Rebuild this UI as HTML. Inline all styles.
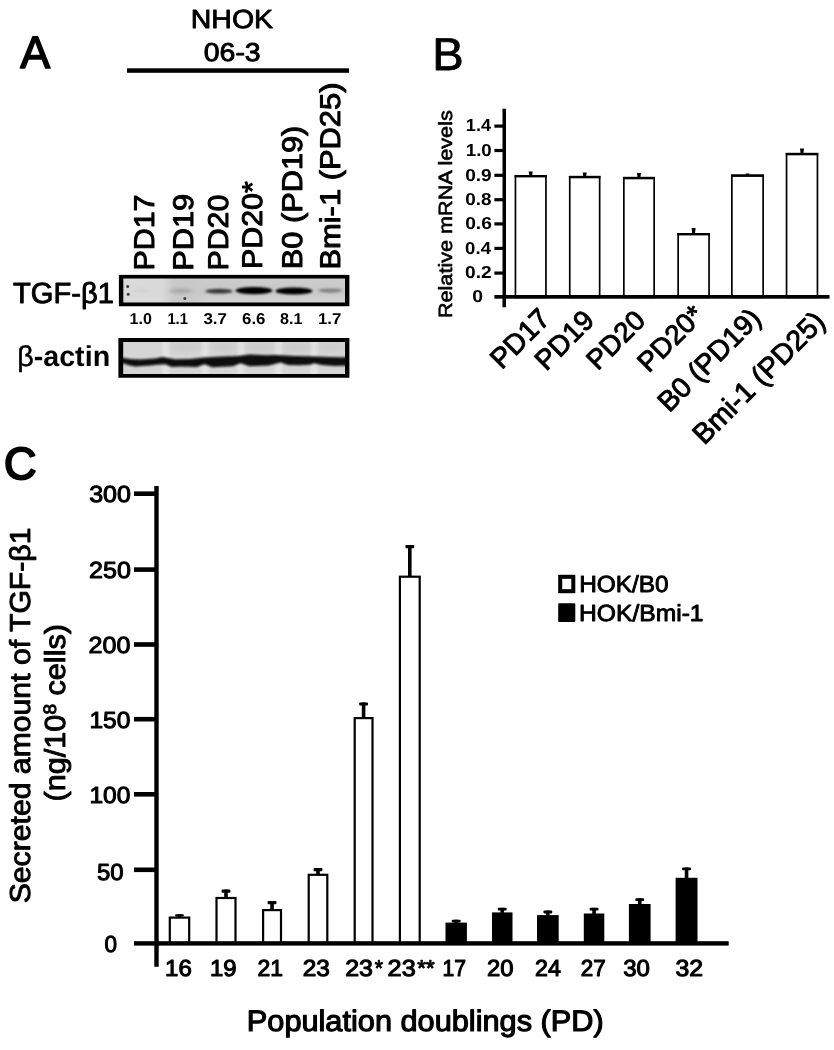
<!DOCTYPE html>
<html lang="en"><head><meta charset="utf-8"><title>Figure</title>
<style>html,body{margin:0;padding:0;background:#fff}svg{display:block}text{font-family:"Liberation Sans", sans-serif;fill:#000;text-rendering:geometricPrecision}</style>
</head><body>
<svg width="834" height="1050" viewBox="0 0 834 1050">
<defs>
<filter id="b00" x="-50%" y="-50%" width="200%" height="200%"><feGaussianBlur stdDeviation="0.5"/></filter>
<filter id="b0" x="-20%" y="-100%" width="140%" height="300%"><feGaussianBlur stdDeviation="1.3 0.9"/></filter>
<filter id="b1" x="-20%" y="-100%" width="140%" height="300%"><feGaussianBlur stdDeviation="1.8 1.1"/></filter>
<filter id="b2" x="-20%" y="-100%" width="140%" height="300%"><feGaussianBlur stdDeviation="2.2 1.4"/></filter>
<filter id="b3" x="-20%" y="-100%" width="140%" height="300%"><feGaussianBlur stdDeviation="4 3"/></filter>
<clipPath id="c1"><rect x="120" y="275" width="228" height="30"/></clipPath>
<clipPath id="c2"><rect x="120" y="339" width="228" height="37"/></clipPath>
</defs>
<rect width="834" height="1050" fill="#fff"/>
<g id="panelA">
<text x="20.28" y="68.16" font-size="45.51" textLength="29.87" lengthAdjust="spacingAndGlyphs" stroke="#000" stroke-width="1.6" stroke-linejoin="round">A</text>
<text x="190.81" y="27.79" font-size="26.17" textLength="82.28" lengthAdjust="spacingAndGlyphs" stroke="#000" stroke-width="0.8" stroke-linejoin="round">NHOK</text>
<text x="203.74" y="61.01" font-size="25.77" textLength="56.98" lengthAdjust="spacingAndGlyphs" stroke="#000" stroke-width="0.9" stroke-linejoin="round">06-3</text>
<rect x="127" y="68.3" width="222" height="4.5" fill="#000"/>
<text x="154.01" y="270.61" font-size="28.5" transform="rotate(-90 154.01 270.61)" textLength="76.11" lengthAdjust="spacingAndGlyphs" stroke="#000" stroke-width="1.0" stroke-linejoin="round">PD17</text>
<text x="192.56" y="270.8" font-size="28.5" transform="rotate(-90 192.56 270.8)" textLength="76.99" lengthAdjust="spacingAndGlyphs" stroke="#000" stroke-width="1.0" stroke-linejoin="round">PD19</text>
<text x="228.11" y="270.5" font-size="28.5" transform="rotate(-90 228.11 270.5)" textLength="75.84" lengthAdjust="spacingAndGlyphs" stroke="#000" stroke-width="1.0" stroke-linejoin="round">PD20</text>
<text x="262.09" y="268.9" font-size="28.5" transform="rotate(-90 262.09 268.9)" textLength="87.61" lengthAdjust="spacingAndGlyphs" stroke="#000" stroke-width="1.0" stroke-linejoin="round">PD20*</text>
<text x="302.02" y="269.13" font-size="28.5" transform="rotate(-90 302.02 269.13)" textLength="143.43" lengthAdjust="spacingAndGlyphs" stroke="#000" stroke-width="1.0" stroke-linejoin="round">B0 (PD19)</text>
<text x="340.08" y="269.56" font-size="28.5" transform="rotate(-90 340.08 269.56)" textLength="187" lengthAdjust="spacingAndGlyphs" stroke="#000" stroke-width="1.0" stroke-linejoin="round">Bmi-1 (PD25)</text>
<rect x="119" y="274.4" width="230" height="31.6" fill="#c9c9c9"/>
<g clip-path="url(#c1)">
<rect x="118" y="270" width="50" height="40" fill="#dadada" filter="url(#b3)"/>
<rect x="200" y="297.5" width="150" height="8" fill="#d3d3d3" filter="url(#b3)"/>
<rect x="200" y="276" width="150" height="7" fill="#cdcdcd" filter="url(#b3)"/>
<ellipse cx="142" cy="290.5" rx="9" ry="2.2" fill="#d2d2d2" filter="url(#b1)"/>
<ellipse cx="181" cy="291" rx="11.5" ry="2.4" fill="#a8a8a8" filter="url(#b2)"/>
<ellipse cx="219" cy="291.2" rx="13.5" ry="2.4" fill="#3a3a3a" filter="url(#b1)"/>
<ellipse cx="254" cy="290.6" rx="18.5" ry="3.7" fill="#000" filter="url(#b0)"/>
<ellipse cx="294" cy="291" rx="18.5" ry="3.6" fill="#000" filter="url(#b0)"/>
<ellipse cx="330.3" cy="290.6" rx="12" ry="2.1" fill="#828282" filter="url(#b1)"/>
<g fill="#3c3c3c" filter="url(#b00)"><circle cx="127.7" cy="286.4" r="1.5"/><circle cx="128.2" cy="294.3" r="1.5"/><circle cx="184.8" cy="298.5" r="1.5"/></g>
</g>
<path fill-rule="evenodd" fill="#000" d="M118.9 274.9H349.4V306.2H118.9Z M123.3 278.4V302.5H345V278.4Z"/>
<text x="129.5" y="323.54" font-size="15.7" font-weight="bold" textLength="22.3" lengthAdjust="spacingAndGlyphs">1.0</text>
<text x="167.39" y="323.54" font-size="15.7" font-weight="bold" textLength="20.57" lengthAdjust="spacingAndGlyphs">1.1</text>
<text x="203.45" y="323.54" font-size="15.7" font-weight="bold" textLength="23.55" lengthAdjust="spacingAndGlyphs">3.7</text>
<text x="242.06" y="323.54" font-size="15.7" font-weight="bold" textLength="23.47" lengthAdjust="spacingAndGlyphs">6.6</text>
<text x="280.14" y="323.54" font-size="15.7" font-weight="bold" textLength="22.43" lengthAdjust="spacingAndGlyphs">8.1</text>
<text x="317.98" y="323.54" font-size="15.7" font-weight="bold" textLength="23.36" lengthAdjust="spacingAndGlyphs">1.7</text>
<rect x="119" y="338.5" width="230" height="38.5" fill="#d5d5d5"/>
<g clip-path="url(#c2)">
<rect x="163" y="338" width="6" height="40" fill="#e6e6e6" filter="url(#b2)"/>
<rect x="202" y="338" width="6" height="40" fill="#e6e6e6" filter="url(#b2)"/>
<rect x="238" y="338" width="6" height="40" fill="#e6e6e6" filter="url(#b2)"/>
<rect x="275.6" y="338" width="6" height="40" fill="#e6e6e6" filter="url(#b2)"/>
<rect x="311" y="338" width="6" height="40" fill="#e6e6e6" filter="url(#b2)"/>
<rect x="172" y="344" width="28" height="6" fill="#c6c6c6" filter="url(#b3)"/>
<rect x="212" y="344" width="24" height="6" fill="#c6c6c6" filter="url(#b3)"/>
<rect x="246" y="344" width="28" height="6" fill="#c6c6c6" filter="url(#b3)"/>
<rect x="284" y="344" width="26" height="6" fill="#c6c6c6" filter="url(#b3)"/>
<rect x="320" y="344" width="22" height="6" fill="#c6c6c6" filter="url(#b3)"/>
<path d="M118 357.7 L124 358.0 L130 358.9 L140 359.4 L155 358.4 L163 357.0 L168 358.0 L175 359.2 L190 358.9 L203.8 357.4 L218 356.7 L238.3 356.0 L249.8 354.59999999999997 L267 355.29999999999995 L275.7 355.0 L294.4 356.0 L305 356.2 L314 356.4 L330 356.9 L350 357.4 L350 365.4 L335 365.9 L322 364.9 L314 363.29999999999995 L310 364.7 L300 365.2 L288 364.9 L280.8 362.5 L268.5 365.4 L249.8 366.2 L240.5 363.29999999999995 L232.6 366.2 L212.4 367.2 L204.5 364.29999999999995 L196.6 366.9 L180 366.5 L172 366.9 L165 364.29999999999995 L160 364.5 L150 365.5 L135 366.4 L128 364.9 L124 363.4 L118 362.9 Z" fill="#0a0a0a" filter="url(#b0)"/>
</g>
<path fill-rule="evenodd" fill="#000" d="M118.4 338H349.4V377.8H118.4Z M123.2 342.1V374H345V342.1Z"/>
<text x="13.1" y="303.27" font-size="29.07" textLength="100.83" lengthAdjust="spacingAndGlyphs" stroke="#000" stroke-width="0.9" stroke-linejoin="round">TGF-β1</text>
<text x="17.17" y="366.08" font-size="28.79" font-weight="bold" textLength="93" lengthAdjust="spacingAndGlyphs"><tspan font-weight="normal" stroke="#000" stroke-width="0.5">β</tspan>-actin</text>
</g>
<g id="panelB">
<text x="432.24" y="70.44" font-size="45.98" textLength="31.49" lengthAdjust="spacingAndGlyphs" stroke="#000" stroke-width="0.8" stroke-linejoin="round">B</text>
<rect x="502.5" y="108.7" width="3.5" height="198.6" fill="#000"/>
<rect x="494.4" y="124.5" width="9" height="3.2" fill="#000"/>
<rect x="494.4" y="148.9" width="9" height="3.2" fill="#000"/>
<rect x="494.4" y="173.7" width="9" height="3.2" fill="#000"/>
<rect x="494.4" y="198.1" width="9" height="3.2" fill="#000"/>
<rect x="494.4" y="222.3" width="9" height="3.2" fill="#000"/>
<rect x="494.4" y="246.8" width="9" height="3.2" fill="#000"/>
<rect x="494.4" y="271.5" width="9" height="3.2" fill="#000"/>
<text x="465.87" y="131.39" font-size="17.3" font-weight="bold" textLength="25.18" lengthAdjust="spacingAndGlyphs">1.4</text>
<text x="465.73" y="155.79" font-size="17.3" font-weight="bold" textLength="26.05" lengthAdjust="spacingAndGlyphs">1.0</text>
<text x="465.18" y="180.59" font-size="17.3" font-weight="bold" textLength="26.57" lengthAdjust="spacingAndGlyphs">0.9</text>
<text x="465.28" y="204.99" font-size="17.3" font-weight="bold" textLength="26.34" lengthAdjust="spacingAndGlyphs">0.8</text>
<text x="465.19" y="229.19" font-size="17.3" font-weight="bold" textLength="26.7" lengthAdjust="spacingAndGlyphs">0.6</text>
<text x="465.14" y="253.69" font-size="17.3" font-weight="bold" textLength="25.86" lengthAdjust="spacingAndGlyphs">0.4</text>
<text x="465.11" y="278.39" font-size="17.3" font-weight="bold" textLength="26.58" lengthAdjust="spacingAndGlyphs">0.2</text>
<text x="472.2" y="301.83" font-size="17.3" font-weight="bold" textLength="10.82" lengthAdjust="spacingAndGlyphs">0</text>
<text x="452.04" y="318.05" font-size="19.21" transform="rotate(-90 452.04 318.05)" textLength="207.82" lengthAdjust="spacingAndGlyphs" stroke="#000" stroke-width="0.6" stroke-linejoin="round">Relative mRNA levels</text>
<rect x="515.45" y="175.85" width="30.50" height="121.50" fill="#fff" stroke="#000" stroke-width="1.7"/>
<rect x="514.6" y="175.0" width="32.2" height="2.4" fill="#000"/>
<path d="M528.7 171.5 h4 l-0.6 4.0 h-2.8 Z" fill="#000"/>
<rect x="569.75" y="176.75" width="29.90" height="120.60" fill="#fff" stroke="#000" stroke-width="1.7"/>
<rect x="568.9" y="175.9" width="31.6" height="2.4" fill="#000"/>
<path d="M582.7 172.5 h4 l-0.6 3.9 h-2.8 Z" fill="#000"/>
<rect x="623.85" y="177.75" width="30.30" height="119.60" fill="#fff" stroke="#000" stroke-width="1.7"/>
<rect x="623" y="176.9" width="32.0" height="2.4" fill="#000"/>
<path d="M637.0 173 h4 l-0.6 4.4 h-2.8 Z" fill="#000"/>
<rect x="678.15" y="233.85" width="30.90" height="63.50" fill="#fff" stroke="#000" stroke-width="1.7"/>
<rect x="677.3" y="233" width="32.6" height="2.4" fill="#000"/>
<path d="M691.6 227.9 h4 l-0.6 5.6 h-2.8 Z" fill="#000"/>
<rect x="731.85" y="175.35" width="31.30" height="122.00" fill="#fff" stroke="#000" stroke-width="1.7"/>
<rect x="731" y="174.5" width="33.0" height="2.4" fill="#000"/>
<path d="M745.5 173.6 h4 l-0.6 1.4 h-2.8 Z" fill="#000"/>
<rect x="786.55" y="153.75" width="30.90" height="143.60" fill="#fff" stroke="#000" stroke-width="1.7"/>
<rect x="785.7" y="152.9" width="32.6" height="2.4" fill="#000"/>
<path d="M800.0 148.6 h4 l-0.6 4.8 h-2.8 Z" fill="#000"/>
<rect x="494.4" y="295" width="335.1" height="3.7" fill="#000"/>
<text x="501.65" y="370.37" font-size="28.31" transform="rotate(-45 501.65 370.37)" textLength="70.83" lengthAdjust="spacingAndGlyphs" stroke="#000" stroke-width="0.95" stroke-linejoin="round">PD17</text>
<text x="546.2" y="371.65" font-size="28.1" transform="rotate(-45 546.2 371.65)" textLength="70.31" lengthAdjust="spacingAndGlyphs" stroke="#000" stroke-width="0.95" stroke-linejoin="round">PD19</text>
<text x="597.7" y="371.31" font-size="27.8" transform="rotate(-45 597.7 371.31)" textLength="69.56" lengthAdjust="spacingAndGlyphs" stroke="#000" stroke-width="0.95" stroke-linejoin="round">PD20</text>
<text x="648.7" y="373.58" font-size="27.7" transform="rotate(-45 648.7 373.58)" textLength="80.06" lengthAdjust="spacingAndGlyphs" stroke="#000" stroke-width="0.95" stroke-linejoin="round">PD20*</text>
<text x="669.24" y="413.32" font-size="28.27" transform="rotate(-45 669.24 413.32)" textLength="131.97" lengthAdjust="spacingAndGlyphs" stroke="#000" stroke-width="0.95" stroke-linejoin="round">B0 (PD19)</text>
<text x="704.22" y="445.84" font-size="28.64" transform="rotate(-45 704.22 445.84)" textLength="173.46" lengthAdjust="spacingAndGlyphs" stroke="#000" stroke-width="0.95" stroke-linejoin="round">Bmi-1 (PD25)</text>
</g>
<g id="panelC">
<text x="4.03" y="479.25" font-size="44.96" textLength="32.46" lengthAdjust="spacingAndGlyphs" stroke="#000" stroke-width="2.1" stroke-linejoin="round">C</text>
<rect x="154.3" y="486" width="4.4" height="480.8" fill="#000"/>
<rect x="134" y="491.4" width="21" height="4.6" fill="#000"/>
<rect x="134" y="567.3" width="21" height="4.6" fill="#000"/>
<rect x="134" y="642.2" width="21" height="4.6" fill="#000"/>
<rect x="134" y="716.9" width="21" height="4.6" fill="#000"/>
<rect x="134" y="792.0" width="21" height="4.6" fill="#000"/>
<rect x="134" y="867.5" width="21" height="4.6" fill="#000"/>
<text x="89.19" y="502.21" font-size="23.3" textLength="41.8" lengthAdjust="spacingAndGlyphs" stroke="#000" stroke-width="1.0" stroke-linejoin="round">300</text>
<text x="89.02" y="578.11" font-size="23.3" textLength="41.86" lengthAdjust="spacingAndGlyphs" stroke="#000" stroke-width="1.0" stroke-linejoin="round">250</text>
<text x="88.56" y="653.01" font-size="23.3" textLength="41.87" lengthAdjust="spacingAndGlyphs" stroke="#000" stroke-width="1.0" stroke-linejoin="round">200</text>
<text x="89.4" y="727.61" font-size="23.3" textLength="40.98" lengthAdjust="spacingAndGlyphs" stroke="#000" stroke-width="1.0" stroke-linejoin="round">150</text>
<text x="89.4" y="802.81" font-size="23.3" textLength="40.98" lengthAdjust="spacingAndGlyphs" stroke="#000" stroke-width="1.0" stroke-linejoin="round">100</text>
<text x="97" y="880.47" font-size="23.3" textLength="26.57" lengthAdjust="spacingAndGlyphs" stroke="#000" stroke-width="1.0" stroke-linejoin="round">50</text>
<text x="104.58" y="951.81" font-size="23.3" textLength="12.55" lengthAdjust="spacingAndGlyphs" stroke="#000" stroke-width="1.0" stroke-linejoin="round">0</text>
<rect x="177.70" y="914.2" width="3.6" height="2.8" fill="#000"/>
<rect x="175.10" y="914.2" width="8.8" height="2.2" rx="0.8" fill="#000"/>
<rect x="169.80" y="917.60" width="19.40" height="25.5" fill="#fff" stroke="#000" stroke-width="2.2"/>
<rect x="224.20" y="889.6" width="3.6" height="7.8" fill="#000"/>
<rect x="221.60" y="889.6" width="8.8" height="3.2" rx="0.8" fill="#000"/>
<rect x="216.50" y="898.00" width="19.00" height="45.1" fill="#fff" stroke="#000" stroke-width="2.2"/>
<rect x="270.25" y="901" width="3.6" height="8.5" fill="#000"/>
<rect x="267.65" y="901" width="8.8" height="3.2" rx="0.8" fill="#000"/>
<rect x="263.10" y="910.10" width="17.90" height="33.0" fill="#fff" stroke="#000" stroke-width="2.2"/>
<rect x="316.20" y="868" width="3.6" height="6.2" fill="#000"/>
<rect x="313.60" y="868" width="8.8" height="3.2" rx="0.8" fill="#000"/>
<rect x="308.70" y="874.80" width="18.60" height="68.3" fill="#fff" stroke="#000" stroke-width="2.2"/>
<rect x="361.80" y="702.4" width="3.6" height="15.1" fill="#000"/>
<rect x="359.20" y="702.4" width="8.8" height="3.2" rx="0.8" fill="#000"/>
<rect x="354.70" y="718.10" width="17.80" height="225.0" fill="#fff" stroke="#000" stroke-width="2.2"/>
<rect x="408.00" y="545" width="3.6" height="31.1" fill="#000"/>
<rect x="405.40" y="545" width="8.8" height="3.2" rx="0.8" fill="#000"/>
<rect x="399.90" y="576.70" width="19.80" height="366.4" fill="#fff" stroke="#000" stroke-width="2.2"/>
<rect x="445.5" y="922.6" width="21.4" height="21.4" fill="#000"/>
<rect x="454.40" y="919.7" width="3.6" height="3.4" fill="#000"/>
<rect x="451.80" y="919.7" width="8.8" height="2.8" rx="0.8" fill="#000"/>
<rect x="492" y="912.4" width="20.5" height="31.6" fill="#000"/>
<rect x="500.45" y="907.8" width="3.6" height="5.1" fill="#000"/>
<rect x="497.85" y="907.8" width="8.8" height="2.8" rx="0.8" fill="#000"/>
<rect x="537" y="915.1" width="21.7" height="28.9" fill="#000"/>
<rect x="546.05" y="910.6" width="3.6" height="5.0" fill="#000"/>
<rect x="543.45" y="910.6" width="8.8" height="2.8" rx="0.8" fill="#000"/>
<rect x="583.8" y="913.5" width="20.5" height="30.5" fill="#000"/>
<rect x="592.25" y="907.8" width="3.6" height="6.2" fill="#000"/>
<rect x="589.65" y="907.8" width="8.8" height="2.8" rx="0.8" fill="#000"/>
<rect x="628.9" y="904" width="21.7" height="40.0" fill="#000"/>
<rect x="637.95" y="898.3" width="3.6" height="6.2" fill="#000"/>
<rect x="635.35" y="898.3" width="8.8" height="2.8" rx="0.8" fill="#000"/>
<rect x="675.6" y="877.8" width="21.9" height="66.2" fill="#000"/>
<rect x="684.75" y="867.5" width="3.6" height="10.8" fill="#000"/>
<rect x="682.15" y="867.5" width="8.8" height="2.8" rx="0.8" fill="#000"/>
<rect x="134" y="941.2" width="594.7" height="4.4" fill="#000"/>
<text x="165.08" y="976.42" font-size="23.1" textLength="26.74" lengthAdjust="spacingAndGlyphs" stroke="#000" stroke-width="1.1" stroke-linejoin="round">16</text>
<text x="210.03" y="976.42" font-size="23.1" textLength="26.53" lengthAdjust="spacingAndGlyphs" stroke="#000" stroke-width="1.1" stroke-linejoin="round">19</text>
<text x="257.58" y="976.42" font-size="23.1" textLength="25.51" lengthAdjust="spacingAndGlyphs" stroke="#000" stroke-width="1.1" stroke-linejoin="round">21</text>
<text x="302.78" y="976.42" font-size="23.1" textLength="27.14" lengthAdjust="spacingAndGlyphs" stroke="#000" stroke-width="1.1" stroke-linejoin="round">23</text>
<text x="345.21" y="976.42" font-size="23.1" textLength="27.75" lengthAdjust="spacingAndGlyphs" stroke="#000" stroke-width="1.1" stroke-linejoin="round">23</text>
<text x="387.63" y="976.42" font-size="23.1" textLength="28.12" lengthAdjust="spacingAndGlyphs" stroke="#000" stroke-width="1.1" stroke-linejoin="round">23</text>
<text x="442.47" y="976.42" font-size="23.1" textLength="23.47" lengthAdjust="spacingAndGlyphs" stroke="#000" stroke-width="1.1" stroke-linejoin="round">17</text>
<text x="487.01" y="976.42" font-size="23.1" textLength="26.51" lengthAdjust="spacingAndGlyphs" stroke="#000" stroke-width="1.1" stroke-linejoin="round">20</text>
<text x="535.05" y="976.42" font-size="23.1" textLength="25.82" lengthAdjust="spacingAndGlyphs" stroke="#000" stroke-width="1.1" stroke-linejoin="round">24</text>
<text x="580.8" y="976.42" font-size="23.1" textLength="24.93" lengthAdjust="spacingAndGlyphs" stroke="#000" stroke-width="1.1" stroke-linejoin="round">27</text>
<text x="623.21" y="976.42" font-size="23.1" textLength="26.73" lengthAdjust="spacingAndGlyphs" stroke="#000" stroke-width="1.1" stroke-linejoin="round">30</text>
<text x="675.45" y="976.42" font-size="23.1" textLength="27.62" lengthAdjust="spacingAndGlyphs" stroke="#000" stroke-width="1.1" stroke-linejoin="round">32</text>
<text x="374.68" y="976.3" font-size="23.1" textLength="8.26" lengthAdjust="spacingAndGlyphs" stroke="#000" stroke-width="0.9" stroke-linejoin="round">*</text>
<text x="417.22" y="976.14" font-size="23.1" textLength="17.38" lengthAdjust="spacingAndGlyphs" stroke="#000" stroke-width="0.9" stroke-linejoin="round">**</text>
<text x="246.82" y="1031.25" font-size="29.57" textLength="356.85" lengthAdjust="spacingAndGlyphs" stroke="#000" stroke-width="1.15" stroke-linejoin="round">Population doublings (PD)</text>
<text x="30.07" y="903.31" font-size="28.89" transform="rotate(-90 30.07 903.31)" textLength="375.81" lengthAdjust="spacingAndGlyphs" stroke="#000" stroke-width="0.9" stroke-linejoin="round">Secreted amount of TGF-β1</text>
<text x="65.32" y="801.48" font-size="29" transform="rotate(-90 65.32 801.48)" textLength="177.51" lengthAdjust="spacingAndGlyphs" stroke="#000" stroke-width="0.9" stroke-linejoin="round">(ng/10<tspan font-size="62%" dy="-0.53em">8</tspan><tspan dy="0.329em"> cells)</tspan></text>
<rect x="560.2" y="576.8" width="13.1" height="14.4" fill="#fff" stroke="#000" stroke-width="4"/>
<rect x="558.2" y="603.2" width="17.1" height="18.8" rx="0.8" fill="#000"/>
<text x="579.2" y="592.4" font-size="23.2" textLength="89.5" lengthAdjust="spacingAndGlyphs" stroke="#000" stroke-width="0.9" stroke-linejoin="round">HOK/B0</text>
<text x="579.09" y="620.9" font-size="23.2" textLength="124.5" lengthAdjust="spacingAndGlyphs" stroke="#000" stroke-width="0.9" stroke-linejoin="round">HOK/Bmi-1</text>
</g>
</svg></body></html>
